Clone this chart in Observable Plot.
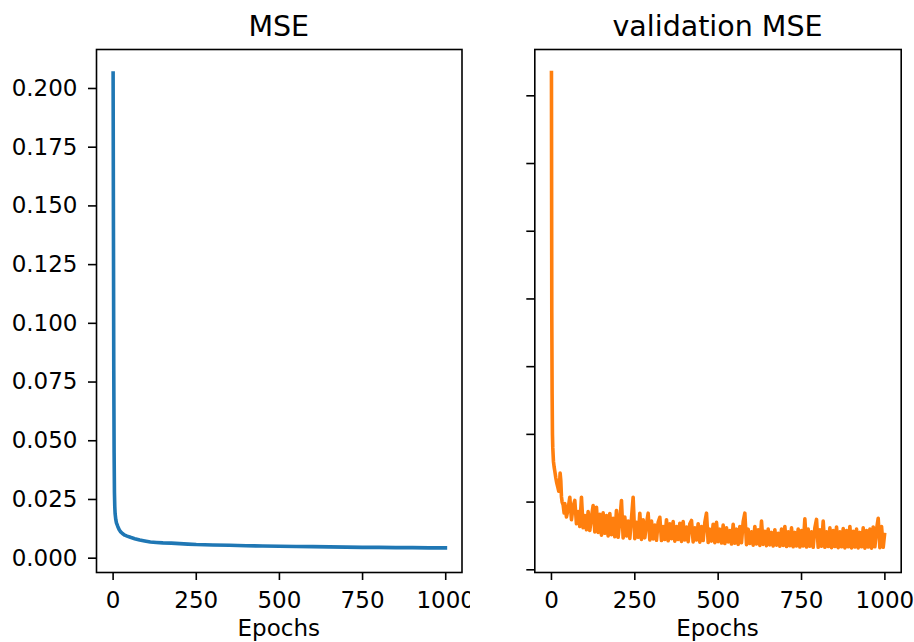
<!DOCTYPE html>
<html><head><meta charset="utf-8">
<script src="https://cdn.jsdelivr.net/npm/d3@7"></script>
<script src="https://cdn.jsdelivr.net/npm/@observablehq/plot@0.6"></script>
<style>
body{margin:0;background:#fff;}
#wrap{position:relative;width:914px;height:642px;overflow:hidden;background:#fff;}
#wrap svg{position:absolute;top:0;}
</style></head><body><div id="wrap"></div>
<script>
// ---- data ----
const titles = ["MSE", "validation MSE"];
const xLabel = "Epochs";
const xTicks = [0, 250, 500, 750, 1000];
const yTicksLeft = [0, 0.025, 0.05, 0.075, 0.1, 0.125, 0.15, 0.175, 0.2];
const yTicksRight = [0, 0.025, 0.05, 0.075, 0.1, 0.125, 0.15, 0.175];

const trainEpochs = [0,1,2,3,4,5,6,8,10,14,18,22,28,35,42,52,65,80,95,112,130,150,175,200,225,250,300,350,400,450,500,550,600,650,700,750,800,850,900,950,999];
const trainMSE = [0.2066,0.14,0.08,0.045,0.028,0.022,0.019,0.0165,0.015,0.0135,0.0122,0.0113,0.0105,0.0098,0.0094,0.0089,0.0083,0.0077,0.0073,0.0069,0.0067,0.0065,0.0064,0.0062,0.0060,0.0058,0.0056,0.0055,0.0053,0.0052,0.0051,0.0050,0.0049,0.0048,0.0047,0.0046,0.0046,0.0045,0.0045,0.0044,0.0044];

const valEarlyEpochs = [0,1,2,3,4,6,8,10,13,16,19,22,24,26,28,30,32,35,38];
const valEarlyMSE = [0.1836,0.095,0.065,0.050,0.045,0.040,0.038,0.0365,0.034,0.032,0.0305,0.029,0.031,0.0357,0.033,0.027,0.025,0.024,0.021];
// validation MSE sampled every 5 epochs from epoch 40 to 995
const valLateStart = 40, valLateStep = 5;
const valLateMSE = [
0.0245,0.0195,0.0225,0.0268,0.0185,0.0235,0.0256,0.0170,0.0215,0.0160,
0.0268,0.0155,0.0200,0.0148,0.0215,0.0145,0.0195,0.0237,0.0140,0.0231,
0.0138,0.0205,0.0128,0.0210,0.0135,0.0200,0.0125,0.0208,0.0130,0.0190,
0.0122,0.0219,0.0120,0.0185,0.0256,0.0118,0.0195,0.0125,0.0180,0.0116,
0.0190,0.0268,0.0115,0.0175,0.0120,0.0209,0.0112,0.0185,0.0118,0.0170,
0.0209,0.0110,0.0180,0.0114,0.0165,0.0109,0.0175,0.0194,0.0108,0.0160,
0.0112,0.0185,0.0107,0.0170,0.0115,0.0178,0.0106,0.0160,0.0112,0.0172,
0.0105,0.0178,0.0110,0.0158,0.0104,0.0170,0.0182,0.0103,0.0155,0.0110,
0.0170,0.0102,0.0160,0.0108,0.0175,0.0209,0.0101,0.0150,0.0106,0.0168,
0.0100,0.0175,0.0104,0.0150,0.0099,0.0165,0.0097,0.0155,0.0103,0.0145,
0.0095,0.0168,0.0098,0.0150,0.0094,0.0160,0.0100,0.0178,0.0209,0.0093,
0.0150,0.0097,0.0140,0.0091,0.0160,0.0095,0.0148,0.0090,0.0180,0.0094,
0.0142,0.0089,0.0150,0.0092,0.0138,0.0088,0.0148,0.0091,0.0135,0.0087,
0.0150,0.0090,0.0160,0.0086,0.0140,0.0089,0.0155,0.0085,0.0138,0.0088,
0.0150,0.0084,0.0145,0.0088,0.0188,0.0084,0.0150,0.0087,0.0140,0.0083,
0.0155,0.0186,0.0083,0.0148,0.0087,0.0180,0.0083,0.0140,0.0086,0.0155,
0.0082,0.0145,0.0086,0.0158,0.0082,0.0140,0.0085,0.0152,0.0081,0.0145,
0.0085,0.0160,0.0081,0.0142,0.0084,0.0150,0.0081,0.0138,0.0085,0.0155,
0.0080,0.0145,0.0084,0.0150,0.0080,0.0158,0.0085,0.0150,0.0190,0.0082,
0.0160,0.0083
];
const valEndEpoch = [999];
const valEndMSE = [0.0130];

// ---- tables ----
const train = trainEpochs.map((e, i) => ({epoch: e, mse: trainMSE[i]}));
const val = valEarlyEpochs.map((e, i) => ({epoch: e, mse: valEarlyMSE[i]}))
  .concat(valLateMSE.map((v, i) => ({epoch: valLateStart + valLateStep * i, mse: v})))
  .concat(valEndEpoch.map((e, i) => ({epoch: e, mse: valEndMSE[i]})));

const FONT = "DejaVu Sans, sans-serif";
const TICKFS = 23;
const TITLEFS = 28.5;
const xDomain = [-49.95, 1048.95];

function panel({data, color, yDomain, yTicks, showYLabels, width, mLeft, mRight, title}) {
  const p = Plot.plot({
    width, height: 642,
    marginLeft: mLeft, marginRight: mRight, marginTop: 49, marginBottom: 70,
    style: {fontFamily: FONT, fontSize: TICKFS + "px", color: "black", background: "white", overflow: "visible"},
    x: {domain: xDomain},
    y: {domain: yDomain},
    marks: [
      Plot.line(data, {x: "epoch", y: "mse", stroke: color, strokeWidth: 3.6, strokeLinejoin: "round", strokeLinecap: "square"}),
      Plot.frame({stroke: "black", strokeWidth: 1.6}),
      Plot.axisX({ticks: xTicks, tickSize: 8, tickPadding: 11.5, tickFormat: d3.format("d"), label: null, strokeWidth: 1.6, fontSize: TICKFS}),
      Plot.axisY({ticks: yTicks, tickSize: 8, tickPadding: 11, tickFormat: showYLabels ? d3.format(".3f") : () => "", label: null, strokeWidth: 1.6, fontSize: TICKFS})
    ]
  });
  const svg = d3.select(p);
  const cx = (mLeft + (width - mRight)) / 2;
  svg.append("text").attr("x", cx).attr("y", 36).attr("text-anchor", "middle")
    .attr("font-family", FONT).attr("font-size", TITLEFS).attr("fill", "black").text(title);
  svg.append("text").attr("x", cx).attr("y", 636).attr("text-anchor", "middle")
    .attr("font-family", FONT).attr("font-size", TICKFS).attr("fill", "black").text(xLabel);
  return p;
}

const wrap = document.getElementById("wrap");
const left = panel({data: train, color: "#1f77b4", yDomain: [-0.0061, 0.2166], yTicks: yTicksLeft, showYLabels: true,
  width: 470, mLeft: 96, mRight: 8.5, title: titles[0]});
left.style.left = "0px";
const right = panel({data: val, color: "#ff7f0e", yDomain: [-0.001, 0.1921], yTicks: yTicksRight, showYLabels: false,
  width: 444, mLeft: 64.3, mRight: 13.3, title: titles[1]});
right.style.left = "470px";
wrap.appendChild(left);
wrap.appendChild(right);
</script>
</body></html>
